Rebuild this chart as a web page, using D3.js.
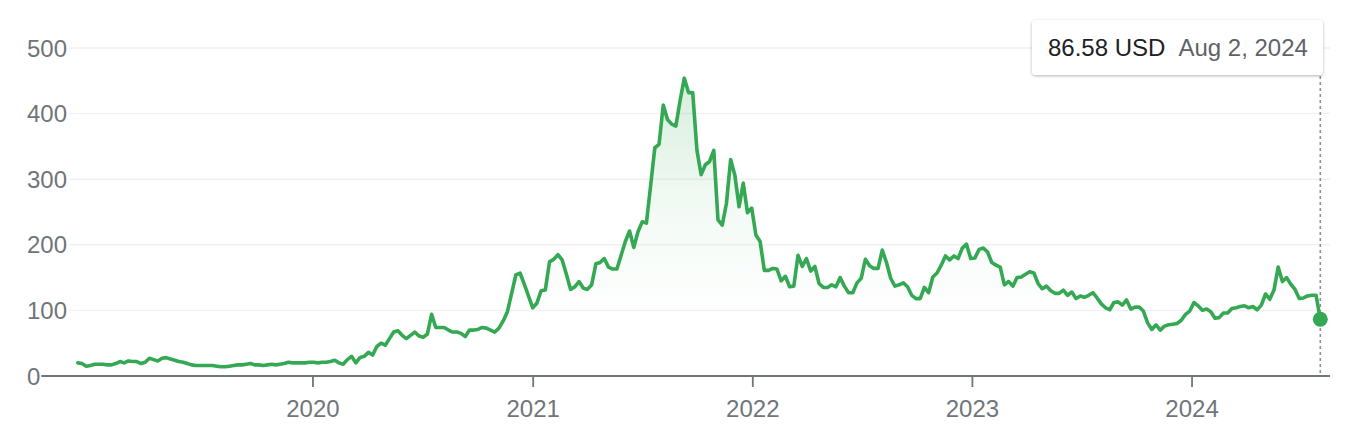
<!DOCTYPE html>
<html>
<head>
<meta charset="utf-8">
<script src="https://cdn.jsdelivr.net/npm/d3@7"></script>
<style>
  html, body { margin: 0; padding: 0; background: #fff; }
  svg { display: block; font-family: "Liberation Sans", Arial, Helvetica, sans-serif; }
</style>
</head>
<body>
<svg id="chart" width="1354" height="426"></svg>
<script>
// ---- Data (weekly closes) ----
const weekStart = "2018-12-07";
const lastDate = "2024-08-02";
const closes = [
  20,19,15,16,18,18,18,17,17,19,
  22,20,23,22,22,19,21,27,25,23,
  27,28,26,24,22,21,19,17,16,16,
  16,16,16,15,14,14,15,16,17,17,
  18,19,17,17,16,17,18,17,18,19,
  21,20,20,20,20,21,21,20,21,21,
  22,24,20,18,25,30,20,28,30,36,
  32,45,50,47,57,67,69,62,57,62,
  67,61,59,64,94,74,74,74,70,67,
  67,65,60,70,70,71,74,73,70,67,
  73,84,98,126,154,157,140,122,104,111,
  130,131,174,178,185,177,155,132,136,144,
  134,132,139,171,173,179,166,163,163,184,
  205,221,196,220,235,233,290,348,353,413,
  391,384,381,420,454,432,432,344,307,322,
  327,344,238,230,263,330,306,258,294,249,
  256,215,205,161,161,164,163,145,152,136,
  137,184,167,179,160,167,141,135,135,139,
  136,150,137,127,127,142,149,178,168,164,
  164,192,173,149,137,139,142,136,123,118,
  118,135,127,151,157,169,183,177,183,179,
  195,201,179,180,193,195,189,173,169,166,
  139,144,137,150,151,155,159,157,141,133,
  137,130,126,126,131,123,128,118,122,120,
  123,127,119,110,104,101,112,113,108,116,
  102,105,105,99,81,71,78,70,76,78,
  79,80,85,94,99,112,107,100,102,98,
  88,89,96,96,103,104,106,107,104,106,
  101,108,125,117,131,166,144,150,140,132,
  118,119,122,123,123,86.58
];
const yTicks = [0, 100, 200, 300, 400, 500];
const xTickYears = [2020, 2021, 2022, 2023, 2024];
const tooltipPrice = "86.58 USD";
const tooltipDate = "Aug 2, 2024";

// ---- Build series ----
const parse = d3.utcParse("%Y-%m-%d");
const start = parse(weekStart);
const data = closes.map((v, i) => ({ date: d3.utcDay.offset(start, i * 7), value: v }));
data[data.length - 1].date = parse(lastDate);

// ---- Layout ----
const svg = d3.select("#chart");
const x = d3.scaleUtc().domain([start, parse(lastDate)]).range([77.8, 1320.3]);
const y = d3.scaleLinear().domain([0, 500]).range([376, 48]);
const plotRight = 1330;
const green = "#34a853";
const gray = "#70757a";

const defs = svg.append("defs");
const grad = defs.append("linearGradient").attr("id", "fade")
  .attr("gradientUnits", "userSpaceOnUse")
  .attr("x1", 0).attr("x2", 0).attr("y1", y(460)).attr("y2", y(90));
grad.append("stop").attr("offset", "0%").attr("stop-color", green).attr("stop-opacity", 0.2);
grad.append("stop").attr("offset", "55%").attr("stop-color", green).attr("stop-opacity", 0.06);
grad.append("stop").attr("offset", "100%").attr("stop-color", green).attr("stop-opacity", 0);
const shadow = defs.append("filter").attr("id", "shadow")
  .attr("x", "-10%").attr("y", "-30%").attr("width", "120%").attr("height", "170%");
shadow.append("feDropShadow").attr("dx", 0).attr("dy", 1).attr("stdDeviation", 1.6)
  .attr("flood-color", "#000").attr("flood-opacity", 0.3);

// y labels + gridlines
const yg = svg.append("g");
yTicks.forEach(t => {
  const txt = yg.append("text")
    .attr("x", 27).attr("y", y(t)).attr("dy", "0.36em")
    .attr("fill", gray).attr("font-size", 24).text(t);
  const w = txt.node().getComputedTextLength();
  if (t !== 0) {
    yg.insert("line", "text")
      .attr("x1", 27 + w + 2).attr("x2", plotRight)
      .attr("y1", y(t)).attr("y2", y(t))
      .attr("stroke", "#f1f1f1").attr("stroke-width", 1.5);
  } else {
    yg.append("line")
      .attr("x1", 27 + w + 1).attr("x2", plotRight)
      .attr("y1", y(0)).attr("y2", y(0))
      .attr("stroke", gray).attr("stroke-width", 2);
  }
});

// x axis (ticks + labels)
const xAxis = d3.axisBottom(x)
  .tickValues(xTickYears.map(yr => new Date(Date.UTC(yr, 0, 1))))
  .tickFormat(d3.utcFormat("%Y"))
  .tickSize(11).tickPadding(13);
const xg = svg.append("g").attr("transform", `translate(0,${y(0)})`).call(xAxis);
xg.select(".domain").remove();
xg.selectAll(".tick line").attr("stroke", gray).attr("stroke-width", 1.8);
xg.selectAll(".tick text").attr("fill", gray).attr("font-size", 24)
  .attr("font-family", "\"Liberation Sans\", Arial, Helvetica, sans-serif");

// area + line
const area = d3.area().x(d => x(d.date)).y0(y(0)).y1(d => y(d.value));
const line = d3.line().x(d => x(d.date)).y(d => y(d.value));
svg.append("path").datum(data).attr("d", area).attr("fill", "url(#fade)");
svg.append("path").datum(data).attr("d", line)
  .attr("fill", "none").attr("stroke", green).attr("stroke-width", 3.6)
  .attr("stroke-linejoin", "round").attr("stroke-linecap", "round");

// hover marker
const last = data[data.length - 1];
svg.append("line")
  .attr("x1", x(last.date)).attr("x2", x(last.date))
  .attr("y1", 76).attr("y2", y(0))
  .attr("stroke", "#8a8f94").attr("stroke-width", 1.6).attr("stroke-dasharray", "3,3");
svg.append("circle").attr("cx", x(last.date)).attr("cy", y(last.value))
  .attr("r", 7.5).attr("fill", green);

// tooltip
const tip = svg.append("g");
tip.append("rect").attr("x", 1032).attr("y", 20).attr("width", 291).attr("height", 55)
  .attr("rx", 4).attr("fill", "#fff").attr("filter", "url(#shadow)");
const tt = tip.append("text").attr("x", 1048).attr("y", 56).attr("font-size", 24);
tt.append("tspan").attr("fill", "#202124").text(tooltipPrice);
tt.append("tspan").attr("fill", "#5f6368").attr("dx", 13).text(tooltipDate);
</script>
</body>
</html>
